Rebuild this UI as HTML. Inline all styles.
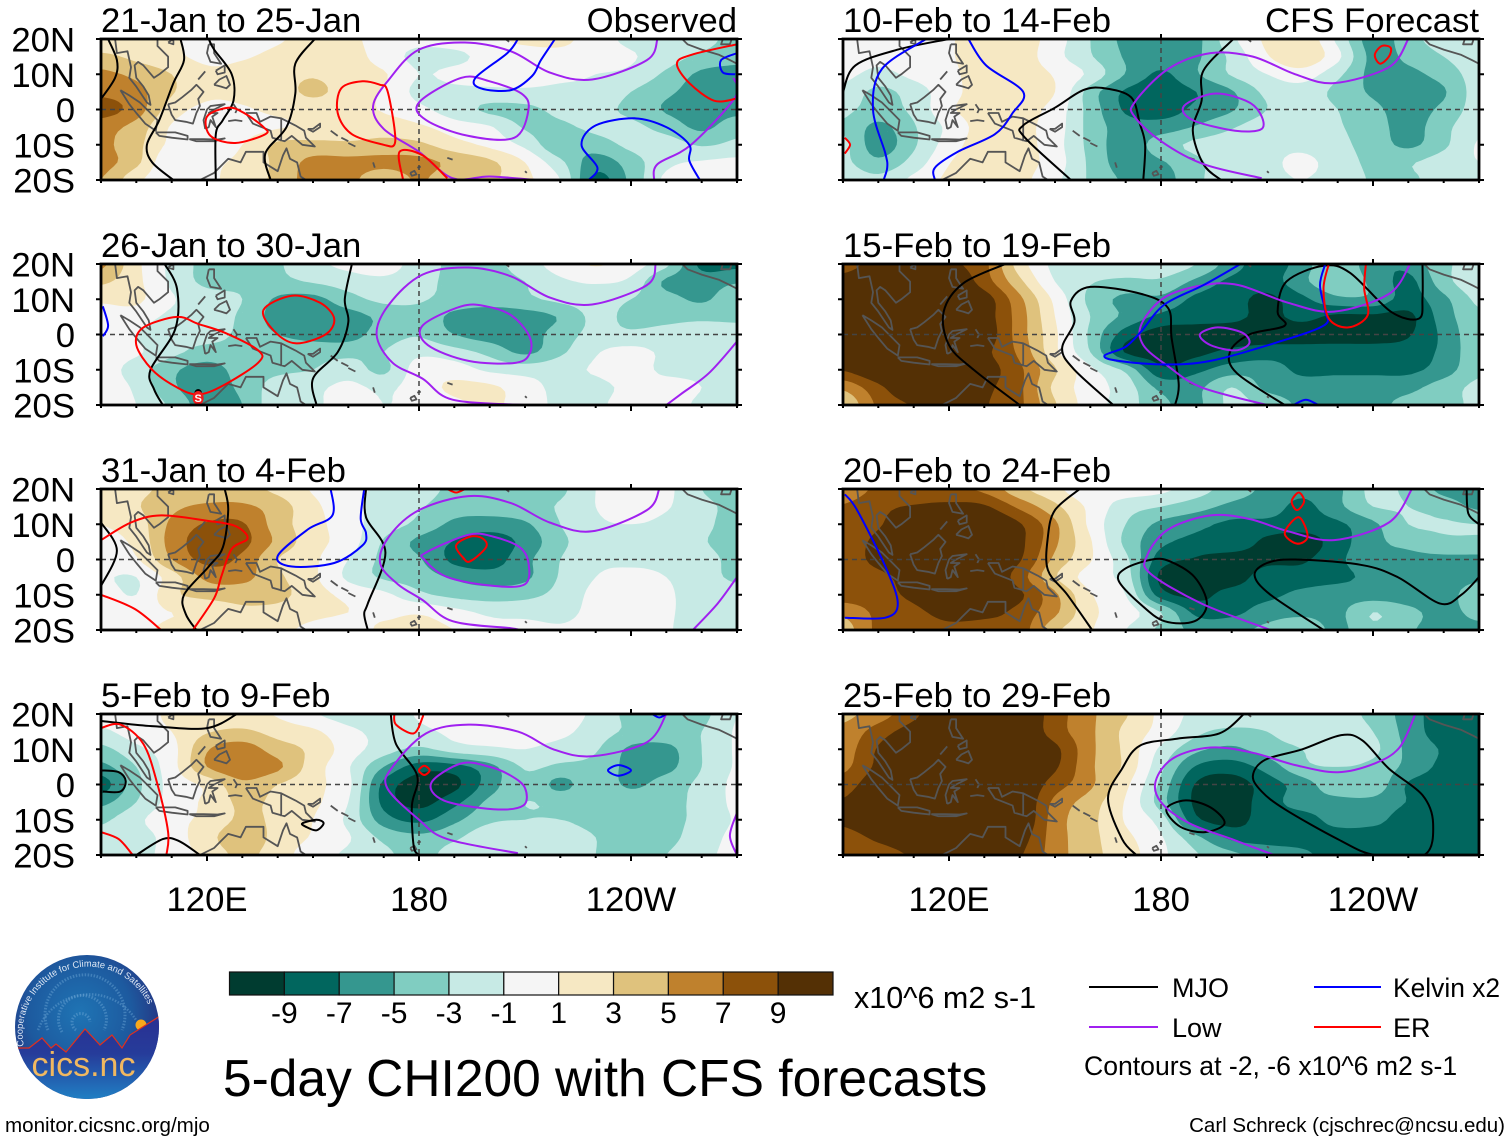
<!DOCTYPE html>
<html lang="en">
<head>
<meta charset="utf-8">
<title>5-day CHI200 with CFS forecasts</title>
<style>
html,body{margin:0;padding:0;background:#fff;}
svg{display:block;font-family:"Liberation Sans",Arial,sans-serif;}
text{fill:#000;}
</style>
</head>
<body>
<svg id="chart" xmlns="http://www.w3.org/2000/svg" width="1510" height="1142" viewBox="0 0 1510 1142">
  <rect x="0" y="0" width="1510" height="1142" fill="#fff"/>
  <defs>
    <radialGradient id="logo-sky" cx="45%" cy="40%" r="60%">
      <stop offset="0" stop-color="#1f74b4"/>
      <stop offset="0.6" stop-color="#1d5a9f"/>
      <stop offset="1" stop-color="#27307f"/>
    </radialGradient>
    <linearGradient id="logo-ground" x1="0" y1="0" x2="0" y2="1">
      <stop offset="0" stop-color="#2a2f92"/>
      <stop offset="0.45" stop-color="#263c9a"/>
      <stop offset="1" stop-color="#2080c4"/>
    </linearGradient>
    <clipPath id="logo-clip"><circle cx="87" cy="1027" r="72"/></clipPath>
    <path id="logo-arc" d="M 24 1046 A 65.5 65.5 0 1 1 153 1019"/>
  </defs>
  <g id="panels"></g>

  <g font-size="34.7">
    <text x="101" y="32">21-Jan to 25-Jan</text>
    <text x="737" y="32" text-anchor="end">Observed</text>
    <text x="101" y="257">26-Jan to 30-Jan</text>
    <text x="101" y="482">31-Jan to 4-Feb</text>
    <text x="101" y="707">5-Feb to 9-Feb</text>
    <text x="843" y="32">10-Feb to 14-Feb</text>
    <text x="1479" y="32" text-anchor="end">CFS Forecast</text>
    <text x="843" y="257">15-Feb to 19-Feb</text>
    <text x="843" y="482">20-Feb to 24-Feb</text>
    <text x="843" y="707">25-Feb to 29-Feb</text>
  </g>

  <g id="colorbar"></g>
  <text x="854" y="1008" font-size="30.5">x10^6 m2 s-1</text>
  <text x="223" y="1096" font-size="51.5">5-day CHI200 with CFS forecasts</text>

  <g font-size="27">
    <line x1="1089" y1="987" x2="1158" y2="987" stroke="#000" stroke-width="2"/>
    <text x="1172" y="997">MJO</text>
    <line x1="1089" y1="1027" x2="1158" y2="1027" stroke="#a020f0" stroke-width="2"/>
    <text x="1172" y="1037">Low</text>
    <line x1="1314" y1="987" x2="1381" y2="987" stroke="#0000ff" stroke-width="2"/>
    <text x="1393" y="997" font-size="26.4">Kelvin x2</text>
    <line x1="1314" y1="1027" x2="1381" y2="1027" stroke="#ff0000" stroke-width="2"/>
    <text x="1393" y="1037">ER</text>
    <text x="1084" y="1075" font-size="26.6">Contours at -2, -6 x10^6 m2 s-1</text>
  </g>

  <g>
    <circle cx="87" cy="1027" r="72" fill="url(#logo-sky)"/>
    <g clip-path="url(#logo-clip)" fill="none" stroke="#6fa8d8" stroke-opacity="0.45" stroke-dasharray="1.5 1.5">
      <path stroke-width="3" d="M 76 1030 A 9 9 0 1 1 90 1022"/>
      <path stroke-width="3" d="M 62 1032 A 24 24 0 1 1 104 1030"/>
      <path stroke-width="3" d="M 48 1030 A 40 40 0 1 1 122 1030"/>
      <path stroke-width="2.5" d="M 38 1030 A 55 55 0 0 1 136 1020"/>
    </g>
    <g clip-path="url(#logo-clip)">
      <circle cx="141" cy="1025" r="5.5" fill="#f8a81c"/>
      <path d="M 15 1048 L 29 1048 L 42 1038 L 51 1048 L 56 1044 L 66 1052 L 85 1029 L 100 1045 L 112 1035 L 122 1048 L 130 1035 L 160 1016 L 160 1100 L 15 1100 Z" fill="url(#logo-ground)" stroke="#e0301e" stroke-width="1.2"/>
    </g>
    <text font-size="9.3" style="fill:#dfe8f5"><textPath href="#logo-arc" startOffset="0">Cooperative Institute for Climate and Satellites</textPath></text>
    <text x="83.5" y="1076" font-size="34" text-anchor="middle" style="fill:#f0b860">cics.nc</text>
  </g>
  <text x="5" y="1132" font-size="20.6">monitor.cicsnc.org/mjo</text>
  <text x="1505" y="1132" font-size="20.5" text-anchor="end">Carl Schreck (cjschrec@ncsu.edu)</text>
</svg>

<script>
// ---- axes / grid coordinates of the data ----
const lons = [90,100,110,120,130,140,150,160,170,180,190,200,210,220,230,240,250,260,270];
const lats = [20,15,10,5,0,-5,-10,-15,-20];
const lonTicks = [120,180,240];
const lonTickLabels = ["120E","180","120W"];
const latTicks = [20,10,0,-10,-20];
const latTickLabels = ["20N","10N","0","10S","20S"];
const colorLevels = [-9,-7,-5,-3,-1,1,3,5,7,9];
const bandColors = ["#003c30","#01665e","#35978f","#80cdc1","#c7eae5","#f5f5f5","#f6e8c3","#dfc27d","#bf812d","#8c510a","#543005"];

// ---- CHI200 anomaly fields, x10^6 m2 s-1 (rows 20N..20S, columns 90E..270E) ----
const chi21Jan = [
[1.5,2,1.5,-0.5,0,0.8,1.5,1.5,0,-0.5,0,0.5,1.5,1.5,0,-1.5,-1.5,-2,-4],
[3.5,2.5,1.5,0.5,0.8,1.5,2,2,0,-1.5,-1.5,-0.3,0,0.3,0,-0.8,-2,-3.5,-4.5],
[5.5,4.5,3,1.4,1.6,2.2,2.8,2,1.2,-1,-0.5,0,0,-0.5,-1,-1.5,-3.4,-5.4,-5.6],
[6.5,5.6,3.2,1.5,1.5,2,3.4,2,0.8,-1.5,-1.5,-1.5,-1.4,-1.5,-1.5,-3,-4.6,-5.8,-6],
[8,6,2,0.5,0.8,1.4,1.8,1.8,0.8,-0.5,-2,-3.4,-3.5,-2.5,-2.5,-3.5,-5.2,-5.8,-5.6],
[5.8,4.2,0.8,0,0.2,0.8,1.5,1.8,2.2,1.4,0,-0.8,-3.2,-3.4,-2.5,-2.5,-3.8,-5.4,-3.8],
[5.5,3.6,0.5,0,1,3.4,3.6,3.4,3.6,3.4,1.8,0.5,-1.5,-4.6,-4,-2.5,-2,-3.2,-2.5],
[5.8,3.5,-0.8,0.5,1.5,3.5,5.6,5.6,5.6,5.6,4.5,3.4,1,-2.5,-6,-4,-1.5,-0.8,-0.5],
[5,1.5,-0.5,0.5,2,3.5,6,5.6,3.5,5.2,3.5,3.4,1.5,-1,-7.5,-4.5,-0.5,0,0]];
const chi26Jan = [
[5.5,1.5,-1.5,-3.6,-3.5,-3.2,-1.5,-0.5,0,-2,-3.4,-3.6,-2,0,1.2,0,-2.5,-7.5,-7.5],
[3.4,1.5,-1.4,-3.5,-3.5,-3.5,-2.8,-2,-1.5,-2.2,-3.6,-3.6,-3,-1.4,-0.8,-1.5,-5.4,-6,-5.2],
[1.4,1.4,-0.8,-2,-3,-5.3,-5.6,-3.8,-2.5,-2.8,-3.6,-3.8,-3.4,-2.5,-2,-3,-4.2,-5.3,-3.6],
[0,0,-1.5,-1.8,-3.4,-5.8,-6,-5.8,-4.5,-3.6,-5.6,-6.5,-6,-4.8,-2.5,-3.5,-3.6,-3.5,-3.6],
[-0.2,-1,-2.8,-2.5,-3.4,-5,-5.8,-5.8,-4,-3.2,-5,-6,-6,-4,-2.4,-2.6,-2.2,-1.6,-1.6],
[0,-0.7,-2.5,-3.6,-3.4,-3.4,-3.6,-3.6,-3,-1.5,-2.2,-3.6,-5.4,-3.4,-1.2,-0.3,-1.4,-1.5,-1.5],
[0,-2,-4.5,-6,-4,-3.4,-3,-2,-3.4,0,0,-1.4,-1.8,-1.5,-0.8,0,-1.5,-1.5,-1.5],
[0.2,-1.4,-4.6,-6,-4.5,-2,-1.5,-0.5,-1.4,0,1.4,1.4,-0.2,-1.5,-1.5,-0.5,0,-1,-1.5],
[0,-1,-3.4,-6,-5,-1.5,-1.4,0,-1,-0.5,0.5,1.4,0,-1.4,-1.4,0,0,-1.4,-1.5]];
const chi31Jan = [
[2,2.5,3.5,3.6,3.6,2.5,0.8,-0.3,-1.5,-2.2,-3.4,-3.6,-3.6,-3.4,-1,0,-0.5,-3,-3.6],
[1.5,2.8,4.5,5.4,5.4,4,1.5,-0.3,-1.8,-2.8,-4,-4,-3.6,-2.8,-1,0,-0.8,-2.5,-3.4],
[1,2,5.4,7.2,7.2,4,1.8,-0.2,-2,-3.5,-5.5,-6,-5.3,-3,-1.4,-1,-1.5,-2.5,-3.8],
[0.5,1.5,5.8,8,7.6,4.5,1.8,0,-3.2,-5.5,-7.1,-8,-6.4,-3.5,-2,-2.8,-1.5,-2.8,-3.8],
[0,0.8,5,7.6,6.5,3,1.4,-1,-3.5,-4.8,-7.5,-8,-5.6,-3,-1.5,-1.5,-1.5,-2.2,-3.6],
[-0.8,-1,2,5.5,5.6,3.4,1.4,-1.4,-3.3,-4,-5.3,-6,-5.4,-2.8,-1,-0.5,-1,-1.8,-3.6],
[0,-1,2.5,3.6,3.8,3.6,1.8,0.5,-0.5,-2.5,-3.6,-4,-3.6,-2.3,-0.5,0,-0.8,-1.5,-1.5],
[0,0.3,1,1.5,2.5,2.2,1.5,1,0.5,0.8,-0.3,-1.4,-1.5,-1.5,-0.5,0,-0.8,-1.5,-1.5],
[0,0.5,1.4,1.4,1.4,1.4,0.5,0,1.4,1.5,1,-0.3,-0.5,-0.8,-0.5,-0.5,-0.8,-2,-1.5]];
const chi5Feb = [
[-0.2,0,1.4,1.5,1.5,0.8,-0.8,-2,-2,-0.8,0,0,0,0,-1.5,-3.6,-4,-3.6,-1],
[-1.4,0,1,2.8,3.4,2.2,1.4,-0.5,-1.5,-1.5,-0.5,0,-0.3,-0.5,-2,-3.4,-3.6,-3,-0.8],
[-3.6,-1.5,0.3,4.8,6,4,2.5,0,-2,-3.4,-2,-1.4,-1,-1.8,-2.8,-5.4,-5.6,-3,-0.8],
[-5.6,-3,0.2,5,6.5,5.4,2,-0.8,-5,-8,-7.8,-5.7,-2.8,-3.4,-3.6,-5.6,-5.6,-3,-0.8],
[-8,-3.6,-0.3,1.5,4.5,3,1.5,-0.5,-7.5,-10,-9.5,-6,-3.4,-5.6,-3.6,-5.4,-4,-2.5,-0.5],
[-5.6,-3,-0.2,1.4,3.4,2.5,1.4,-1,-7.6,-9.6,-7.6,-4.5,-3,-3.4,-3,-3.5,-3.4,-2.5,-0.5],
[-3.4,-1.5,0.5,1.4,3.4,2.5,1,-1.5,-6,-7.5,-5.5,-3.4,-3,-3,-3.4,-3.4,-3.4,-2.5,-0.8],
[-2.5,-2,0,2.2,4.5,2.2,0.8,-0.8,-3.5,-4.5,-3.4,-1.5,-1.5,-2,-3,-3.5,-3.5,-2,-0.5],
[-3,-2,0,1.5,3.5,1.8,0,-1.4,-2.5,-3.8,-2,-1.5,-1.5,-1.5,-3,-3.4,-3,-1.5,-0.5]];
const chi10Feb = [
[-0.5,0,0,0.8,2,2,0,-3,-5.5,-6,-5.5,-1.5,1.4,2.5,-1.5,-6,-3.8,-2,-1.5],
[0,-0.5,0,0.8,2,2,-0.3,-2.8,-5.2,-6,-5.3,-2.5,0.8,2.6,-0.5,-5.6,-4.5,-3,-1.5],
[-0.5,-1.5,-0.5,0.5,2,2,0.8,-1.5,-5.1,-7.3,-5.2,-2.8,-1,0,-2.5,-5.6,-5.5,-4.2,-2],
[-1.5,-3.5,-2,0.2,2,2,1,-3.9,-7.3,-8,-7,-5.2,-2.5,-1.8,-3.6,-5.3,-6,-5.2,-2],
[-2.5,-3.8,-2.5,0.6,2,1.8,0.2,-3.8,-7.3,-8,-6.5,-5.2,-3,-1.8,-3,-4.5,-5.8,-4.5,-2],
[-3.2,-5.5,-3.2,-0.5,1.8,1.5,0,-3.7,-6,-6,-4.8,-3.2,-1.8,-1.8,-2.8,-4,-5.8,-3.6,-1.5],
[-2.5,-6,-3.3,0,2,1.8,-0.2,-3.6,-6,-4,-2.5,-1.8,-1.5,-1.5,-2.5,-3.8,-5.4,-3.4,-0.8],
[-2.5,-4.5,-2.2,0.9,2,1.8,0,-3.4,-6,-5.2,-3.5,-1.5,-1.5,-0.5,-2,-3.4,-3.2,-2,-1],
[-1.5,-2.4,-0.5,1.4,1.8,1.5,-0.5,-3.3,-5.3,-5.8,-3.5,-1.5,-1.5,-1,-1.8,-3.2,-3.4,-2,-1.5]];
const chi15Feb = [
[8,10,10.5,9.5,7.5,2,-1.5,-1.5,-1.4,-1.5,-3,-6,-8,-6,-3,-6.5,-6.5,-3.4,-2.5],
[10,11,11,11,8,3.5,-1,-2.8,-3.5,-3.4,-5.5,-7.5,-8,-5.5,-3.5,-5.5,-7.5,-3.8,-1.5],
[11,11,11,11,10,5.5,0.5,-3.5,-5.5,-5.5,-7.5,-8.2,-9.5,-7.5,-5.5,-5.5,-7.8,-5.5,-2.5],
[11,11,11,11,10,6,1,-3,-5.5,-7.5,-8.2,-8.5,-9.5,-8.5,-9.5,-9.5,-9.5,-6,-3.4],
[11,11,11,11,10.3,6,1.4,-3.4,-8,-10,-10,-10,-10,-10,-10,-10,-9.2,-6.5,-3.5],
[11,11,11,11,9.5,6.5,1.5,-3,-9.2,-10,-9.5,-8.5,-8,-8,-8,-8,-8,-6.5,-3.5],
[9.2,11,11,11,10,7.4,3.2,-0.5,-3.5,-8.5,-7.5,-6,-6,-7.5,-7.6,-7.6,-7.5,-6,-3.4],
[5.5,8.5,11,11,9.5,7.4,2.5,0,-2,-5.5,-5.5,-3,-5.5,-6,-5.5,-5.5,-5.5,-4,-2.5],
[3.2,7.4,9.2,11,9.2,7.4,3.2,0,-2,-4.5,-5.4,-2.5,-3.5,-5.4,-5.4,-5.4,-4.5,-3.8,-2.5]];
const chi20Feb = [
[5.5,7.4,7.3,7.2,6.5,3.5,1.5,-0.5,0,-0.5,-2,-4,-5.4,-6.5,-5.4,-2.5,-3.5,-5.5,-5.5],
[7.2,8.5,9.2,9.6,9.3,6.5,3.5,0.5,-2,-3,-4.2,-5.5,-6,-7.5,-5.5,-3,-3,-4,-5.4],
[7.6,8.8,10.5,11,11,9.2,5.4,0.5,-3,-5.5,-6.5,-7.4,-7.6,-8,-7.4,-5.4,-3,-2.8,-3],
[8,9.5,11,11,11,9.5,5.4,1.2,-3.5,-6.5,-7.5,-7.5,-9.5,-10,-8,-5.5,-4.5,-3.5,-3.4],
[8,9.6,11,11,11,9.2,4.5,1.2,-2.5,-8,-9.2,-10,-9.5,-9.3,-7.5,-5.4,-5.5,-5.5,-5.5],
[8,8.5,10,11,11,8,3.2,0,-2,-9.5,-9.5,-10,-8,-8,-7.5,-6.5,-6,-6,-5.5],
[8,8.3,9.5,11,11,9.4,5.4,1.2,-1,-8,-9.5,-8.2,-7.5,-6.5,-6,-6,-6,-6,-3.5],
[5.5,7.5,8.5,9.7,9.7,8.3,5.4,1.5,0,-3,-7.5,-7.5,-6,-5.5,-5.5,-3,-4.5,-5.5,-4.5],
[4,7.5,8,8.5,8,8,3.5,1.2,-1,-3.5,-5.5,-5.5,-4.5,-3.5,-5.5,-3.4,-4.8,-5.5,-5.4]];
const chi25Feb = [
[4.5,6,8.5,11,11,11,8,5.4,3.2,0.5,-1.5,-1.4,-2,-2.5,-2.5,-3.5,-6,-8,-8],
[5.5,8,10,11,11,11,8,5.4,2.5,0.2,-2.5,-3.5,-3,-2,-2.3,-3,-5.8,-8,-8],
[6,9.2,11,11,11,11,9.5,5.5,2.5,-1.4,-4.5,-5.4,-4,-3,-1.8,-2.5,-5.5,-7.2,-8],
[6.5,9.5,11,11,11,11,9.3,5.4,2.5,-2.5,-7.2,-8,-6.2,-3.5,-3,-3.5,-5.6,-7.5,-8],
[8,10.5,11,11,11,11,8,5.4,1.5,-3.5,-9.2,-10,-8,-6,-3.6,-3.6,-7.2,-8,-8],
[9.2,11,11,11,11,11,6.5,4,0.8,-4,-9.5,-10,-8,-6,-5.6,-5.6,-7.1,-8,-8],
[9.5,11,11,11,11,11,6,3.6,0.8,-2,-8.5,-9.8,-8,-8,-6.2,-6.4,-8,-8,-8],
[8,9.5,10.5,11,11,10,6,3.6,1.5,-0.8,-4.5,-7.5,-8,-8,-8,-8,-8,-8,-8],
[7.4,8,9.2,9.5,10,9.2,6,3.6,2,-0.5,-2.8,-4.5,-5.6,-6.5,-8,-8,-8,-8,-8]];

// ---- filtered anomaly contours as [lon, lat]; a repeated end point closes a loop ----
const mjo21Jan = [
[[92,20],[94.5,14],[94,9],[90,3]],
[[112.5,20],[113.5,14],[110.5,7.5],[106.5,-3],[103,-10],[104.5,-15],[110.5,-20]],
[[120.5,20],[122,17],[127,10],[127.5,2.5],[124.5,-3],[122.5,-7],[122.5,-20]],
[[150.5,20],[145,13],[145,4.5],[142.5,-5],[136.5,-12.5],[138,-20]]];
const low21Jan = [
[[247.5,20],[244.5,14],[229,8.5],[217,10.5],[206,16.5],[193,19],[180,17],[171.5,8.5],[167,1],[170,-5.5],[180,-12],[189.5,-19.5],[200,-19],[213,-20]],
[[192,9],[180,2],[182,-3],[194,-7.5],[207,-8],[211,0],[209,4.5],[200,8],[192,9]],
[[269,9],[269.5,3.5],[257,-10],[247.5,-15.5],[246.5,-20]]];
const kelvin21Jan = [
[[208,20],[205,16],[196,9],[197.5,6],[206,5.5],[212,9.5],[214.5,14],[218.5,20]],
[[228,-20],[230.5,-16.5],[226,-10],[230,-4.5],[241,-2.5],[250,-5],[256.5,-10],[256.5,-14.5],[259.5,-20]],
[[270,16],[265.5,14],[266,10.5],[269.5,10]]];
const er21Jan = [
[[164,8],[158,6],[157,-1],[161,-7],[170,-10],[173,-10],[173,-5],[171,5.5],[169,7],[164,8]],
[[126,0.5],[120,-2],[121,-7.5],[128,-9.5],[136.5,-7],[136,-5],[130.5,-1],[126,0.5]],
[[175.5,-20],[174.5,-12],[181,-13],[188,-19.5]],
[[270,18.5],[257,15.5],[253,13],[256.5,7.5],[263.5,2.5],[269.5,3]]];

const mjo26Jan = [
[[108,20],[111.5,13],[111,1.5],[104,-10],[105,-15.5],[107.5,-20]],
[[161,20],[159,10],[160,3.5],[157,-5],[150,-12.5],[151,-20]]];
const low26Jan = [
[[247,20],[244.5,14],[229,8.5],[217,10.5],[206,16.5],[194,19],[181,17],[171.5,8.5],[168,0],[172.5,-8],[181,-12.5],[189.5,-18.5],[210,-20]],
[[192,8],[181,2.5],[182.5,-3],[194,-7.5],[207.5,-8],[211.5,-5],[211,0],[206,5.5],[199,8],[192,8]],
[[270,-2],[262,-11],[254,-17],[250,-20]]];
const kelvin26Jan = [
[[90.5,8],[92,2.5],[90.5,-0.5]]];
const er26Jan = [
[[111.5,5],[102,2],[100,-3],[104.5,-10],[111.5,-15],[117.5,-17],[124.5,-14.5],[134.5,-8],[134.5,-4.5],[125,0.5],[117.5,3],[111.5,5]],
[[144,11],[136,7],[139,1],[145,-2.5],[153.5,0],[156,4.5],[152,9],[144,11]]];

const mjo31Jan = [
[[90,10.5],[94.5,2.5],[90,-7.5]],
[[125,20],[126,14],[124.5,3.5],[120.5,-2],[113.5,-10],[114,-15.5],[117,-20]],
[[165,20],[165,12],[170.5,2],[165.5,-12.5],[164.5,-15.5],[165.5,-20]]];
const low31Jan = [
[[248,20],[244.5,14],[229,8],[217,10.5],[206,16],[194,18],[180,14],[171.5,6.5],[169,-1],[174,-7],[181,-11.5],[189.5,-17.5],[206,-19.5],[208,-20]],
[[194,7],[182,2],[181.5,0],[188,-5],[201,-7.5],[210,-7],[211,-1],[208.5,3.5],[201,6.5],[194,7]],
[[270,-5],[264.5,-12.5],[257.5,-20]]];
const kelvin31Jan = [
[[155,20],[155.5,12.5],[148.5,8.5],[140,1],[144,-2],[156,-1],[164,4],[165,7.5],[163.5,11.5],[164.5,20]]];
const er31Jan = [
[[194.5,6.5],[190.5,4],[192.5,0.5],[194.5,-0.5],[199,3.5],[198,6],[194.5,6.5]],
[[188,20],[190.5,19],[193,20]],
[[90,5.5],[98.5,10.5],[107,12.5],[120,11],[128,9.5],[131.5,6],[127,3],[124,-5],[122,-11],[116,-20]],
[[90,-10],[99.5,-14],[107,-20]]];

const mjo5Feb = [
[[90,18],[105,16.5],[120,16],[128.5,20]],
[[90,4],[95,3.5],[97,1],[95.5,-2],[90.5,-2]],
[[100,-20],[107.5,-15.5],[112,-16],[118,-20]],
[[147,-11],[151,-10],[153,-11],[151,-13],[148,-12],[147,-11]],
[[172,20],[173.5,11.5],[179.5,2.5],[178,-6],[178.5,-17.5],[180,-20]]];
const low5Feb = [
[[250,20],[244.5,12],[229,8],[218,10],[208,15],[194,17],[182,14.5],[172.5,5],[171,-1],[180,-10],[188,-15.5],[208,-19.5]],
[[192,6],[183.5,0.5],[187,-4.5],[201,-7],[209.5,-6],[210,-1],[206,2.5],[200,5],[192,6]],
[[270,-8],[268,-14.5],[270,-20]]];
const kelvin5Feb = [
[[236.5,5.5],[233.5,4],[236.5,2.5],[240,4],[236.5,5.5]],
[[246,20],[248,19],[250,20]]];
const er5Feb = [
[[90,16],[95.5,17],[102,11.5],[106,0],[109,-13.5],[108.5,-20]],
[[90,-13.5],[95,-15.5],[99,-20]],
[[173,20],[173.5,17],[178.5,14.5],[181,19],[181,20]],
[[181.5,5.3],[183,4],[181.5,2.7],[180,4],[181.5,5.3]]];

const mjo10Feb = [
[[90,5],[93.5,12.5],[105.5,17],[120,20]],
[[154.5,-20],[141.5,-8],[141,-4.5],[150,0.5],[158,5.5],[164,6],[171.5,3.5],[174,-4],[175.5,-10],[175,-20]],
[[200.5,20],[192,11],[191.5,2.5],[189,-6],[192,-15.5],[197,-20]]];
const low10Feb = [
[[250,20],[244.5,12],[229,7.5],[218,10],[206,15],[194,16],[182,11.5],[172.5,2],[172.5,-2],[180,-9],[192,-15.5],[208.5,-19.5]],
[[195,4.5],[186.5,1],[189,-3],[201,-6],[208.5,-5.5],[208,-1],[204,2.5],[195,4.5]]];
const kelvin10Feb = [
[[113.5,20],[101,11.5],[98.5,0],[102,-12.5],[102.5,-16.5],[101.5,-20]],
[[125.5,20],[130.5,12.5],[141,5],[138,-1],[133,-7],[122.5,-12],[116,-16.5],[116,-20]]];
const er10Feb = [
[[242.5,18],[240.5,15.5],[242,13],[244.5,15],[245,17.5],[242.5,18]],
[[90.5,-8],[92,-10],[90.5,-12.5]]];

const mjo15Feb = [
[[136,20],[124,14.5],[118.5,6.5],[120,-3],[127,-10],[140,-20]],
[[166.5,-20],[155.5,-10],[152,-4],[155.5,3.5],[154.5,9.5],[160,13.5],[174.5,11.5],[182,7.5],[183,-1],[185,-14],[184,-20]],
[[215,-20],[201.5,-11],[199.5,-5],[205,0],[215,2.5],[213,6.5],[215.5,15],[226,19.5],[233.5,17.5],[245,6.5],[253,4.5],[254,10.5],[254,20]]];
const low15Feb = [
[[250.5,20],[244.5,11.5],[229,6.5],[216,9],[202,14],[192,14],[181,10.5],[174.5,3],[175,-3],[182,-9],[191.5,-15],[210,-20]],
[[196,2],[191,0],[194,-3],[201,-4.5],[205,-2.5],[203,0.5],[196,2]]];
const kelvin15Feb = [
[[202.5,20],[192,14],[181,8.5],[174.5,1],[170,-3.5],[164,-6],[168,-7.5],[181,-8.5],[194,-7.5],[212,-2.5],[226,2.5],[226.5,6.5],[225,14],[226.5,20]],
[[217.5,-20],[221,-18.5],[224.5,-20]]];
const er15Feb = [
[[227.5,20],[226,13],[227.5,4.5],[233,2],[238.5,5.5],[237.5,13],[238,20]]];

const mjo20Feb = [
[[157,20],[150,14],[148,6.5],[148,-3],[153.5,-10],[160.5,-20]],
[[177.5,0],[170,-2.5],[168,-6],[174,-12.5],[181,-17.5],[189.5,-17.5],[193,-12.5],[189.5,-5],[182.5,-0.5],[177.5,0]],
[[226,-20],[211,-10],[206.5,-4.5],[210,-1],[218,0],[236.5,-1.5],[247,-5],[259,-12.5],[265,-10],[270,-5]],
[[266.5,20],[267,13],[270,10]]];
const low20Feb = [
[[251,20],[244.5,10.5],[229,5.5],[216,8],[205,11.5],[194,12.5],[182,8.5],[176,1],[177,-4],[191.5,-12.5],[211,-20]]];
const kelvin20Feb = [
[[90.5,18.5],[94,14],[102,-2],[105.5,-12.5],[102,-16.5],[90.5,-16.5]]];
const er20Feb = [
[[219,19],[217,16.5],[218.5,14],[220.5,16.5],[219,19]],
[[219,12],[215,7.5],[218.5,4.5],[221.5,6.5],[219,12]]];

const mjo25Feb = [
[[203.5,20],[196.5,14.5],[184.5,13],[174,11],[169,4.5],[165,-4],[169,-15.5],[173,-20]],
[[206,2.5],[209.5,7],[220,10],[231,14],[237,12.5],[244.5,4.5],[254,-3],[257,-11],[254.5,-20],[240.5,-20],[230,-15.5],[215,-7],[208.5,-2],[206,2.5]],
[[187,-4.5],[181.5,-7],[185.5,-12],[192.5,-13.5],[198,-11],[194,-6.5],[187,-4.5]]];
const low25Feb = [
[[252,20],[247.5,10.5],[240.5,6],[230,3.5],[218,5.5],[206,9],[194,10.5],[183.5,7.5],[178.5,1],[180,-5],[188,-11],[200,-15.5],[212,-20]]];
const kelvin25Feb = [];
const er25Feb = [];

const stormMarkerLon = 117.5;
const stormMarkerLat = -18;

// ---- coastline outlines, [lon, lat] ----
const coastlines = [
[[94,20],[94.5,16],[97.5,16.5],[98.5,12],[98,9],[100,6.5],[103,2],[104,1.3],[103.5,4],[102,6.5],[100,9],[99.5,12.5],[100.5,13.5],[102,12.5],[105,9],[106.5,10],[109,12],[109,15],[106,18],[106,20]],
[[95.5,5.5],[98,4],[101,2],[104,-1],[106,-3],[105.5,-6],[102.5,-4],[100,-1],[98,1.5],[95.5,5.5]],
[[109,1.5],[111,2],[113,3.5],[115.5,5.5],[117,7],[119,5],[117.5,3],[118,1],[117,-1],[116,-4],[114,-3.5],[111,-3],[110,-1.5],[109,1.5]],
[[105.5,-6.5],[108,-6.5],[111,-6.5],[114.5,-7.5],[114.5,-8.5],[110,-8],[106.5,-7.5],[105.5,-6.5]],
[[115,-8.4],[119,-8.4],[123,-8.5],[125,-8.2],[122,-9],[117,-9],[115,-8.4]],
[[119.5,-5.5],[119,-3],[120,0],[121,1],[125,1.5],[122,0],[120.5,-1],[123,-1],[121.5,-2],[122.5,-5],[121,-3],[120.5,-5],[119.5,-5.5]],
[[120.5,18.5],[122,18.5],[122,16],[124,13],[121,13.5],[120,16],[120.5,18.5]],
[[122,7],[123.5,8.5],[125.5,9.5],[126.5,7],[125.5,6],[124,6.5],[122,7]],
[[117.5,8.5],[119.5,10.8]],
[[122.5,11],[125,12.5],[125,10.5],[123,10],[122.5,11]],
[[109,19],[110.5,20],[110.5,18.5],[109,19]],
[[127.5,1.5],[128.5,0],[128,-1]],
[[126,-3.3],[128,-3],[130,-3.3]],
[[131,-1],[134,-1],[135,-3.5],[138,-2],[141,-2.5],[145,-4.5],[147.5,-6],[148,-8],[150.5,-10.5],[147,-10],[144,-7.5],[142,-9],[138.5,-8],[138,-6],[133,-4],[131,-1]],
[[141,-2.5],[141,-9]],
[[118,-20],[122,-18],[124,-16],[126,-14],[129.5,-15],[131,-12],[136,-12],[136,-15],[140,-17.5],[141.5,-13],[142.5,-11],[143.5,-14],[145.5,-15],[146.5,-19],[148,-20]],
[[148.5,-5.5],[150,-5.5],[152,-4],[152,-5],[150,-6.3],[148.5,-5.5]],
[[155,-6],[157,-7.5]],[[158,-8],[160,-9]],[[160,-9.5],[162,-10.5]],
[[167,-15],[167.5,-16.5]],
[[177.5,-18],[178.7,-17.4],[179.3,-18.4],[178,-18.8],[177.5,-18]],
[[179.5,-16.5],[180.5,-16.2]],
[[188,-13.7],[189.5,-14.2]],
[[210,-17.5],[210.5,-18]],
[[204.5,20],[205.5,19.2]],
[[254.5,20],[256,18.5],[260,17],[265,15.5],[268,14],[270,13]],
[[266,20],[265.5,18.5],[268,18.5],[268.5,20]]];

// ---- panel contents in display order ----
const panelFields = [chi21Jan,chi26Jan,chi31Jan,chi5Feb,chi10Feb,chi15Feb,chi20Feb,chi25Feb];
const panelMjo = [mjo21Jan,mjo26Jan,mjo31Jan,mjo5Feb,mjo10Feb,mjo15Feb,mjo20Feb,mjo25Feb];
const panelLow = [low21Jan,low26Jan,low31Jan,low5Feb,low10Feb,low15Feb,low20Feb,low25Feb];
const panelKelvin = [kelvin21Jan,kelvin26Jan,kelvin31Jan,kelvin5Feb,kelvin10Feb,kelvin15Feb,kelvin20Feb,kelvin25Feb];
const panelEr = [er21Jan,er26Jan,er31Jan,er5Feb,er10Feb,er15Feb,er20Feb,er25Feb];
const panelKeys = ["21jan","26jan","31jan","5feb","10feb","15feb","20feb","25feb"];

// ---- drawing ----
const NS = "http://www.w3.org/2000/svg";
const PANEL_W = 636, PANEL_H = 141;
const colLeft = [101,843];
const rowTop = [39,264,489,714];
function mk(tag, attrs, parent){
  const e = document.createElementNS(NS, tag);
  for (const k in attrs) e.setAttribute(k, attrs[k]);
  parent.appendChild(e);
  return e;
}
function xScale(lon, left){ return left + (lon - lons[0]) / (lons[lons.length-1] - lons[0]) * PANEL_W; }
function yScale(lat, top){ return top + (lats[0] - lat) / (lats[0] - lats[lats.length-1]) * PANEL_H; }
function cr(a,b,c,d,t){ return 0.5*((2*b)+(-a+c)*t+(2*a-5*b+4*c-d)*t*t+(-a+3*b-3*c+d)*t*t*t); }
const UX = 8, UY = 4;
function upsample(field){
  const ny = field.length, nx = field[0].length;
  const W = (nx-1)*UX+1, H = (ny-1)*UY+1;
  const out = [];
  function g(j,i){ return field[Math.max(0,Math.min(ny-1,j))][Math.max(0,Math.min(nx-1,i))]; }
  for (let y=0;y<H;y++){
    const row = new Array(W);
    const fy = y/UY, j = Math.min(ny-2,Math.floor(fy)), ty = fy-j;
    for (let x=0;x<W;x++){
      const fx = x/UX, i = Math.min(nx-2,Math.floor(fx)), tx = fx-i;
      const r = [];
      for (let m=-1;m<=2;m++) r.push(cr(g(j+m,i-1),g(j+m,i),g(j+m,i+1),g(j+m,i+2),tx));
      row[x] = cr(r[0],r[1],r[2],r[3],ty);
    }
    out.push(row);
  }
  return out;
}
function bandPath(S, level, sign, left, top){
  const H = S.length, W = S[0].length;
  const dx = PANEL_W/(W-1), dy = PANEL_H/(H-1);
  const f = v => sign*(v-level);
  let d = "";
  for (let y=0;y<H-1;y++){
    let run = -1;
    const y0 = top+y*dy, y1 = y0+dy;
    for (let x=0;x<W-1;x++){
      const c = [f(S[y][x]),f(S[y][x+1]),f(S[y+1][x+1]),f(S[y+1][x])];
      const full = c[0]>=0&&c[1]>=0&&c[2]>=0&&c[3]>=0;
      if (full){ if (run<0) run = x; continue; }
      if (run>=0){
        d += "M"+(left+run*dx).toFixed(1)+" "+y0.toFixed(1)+"H"+(left+x*dx).toFixed(1)+"V"+y1.toFixed(1)+"H"+(left+run*dx).toFixed(1)+"Z";
        run = -1;
      }
      if (c[0]<0&&c[1]<0&&c[2]<0&&c[3]<0) continue;
      const x0 = left+x*dx, x1 = x0+dx;
      const px = [x0,x1,x1,x0], py = [y0,y0,y1,y1];
      const poly = [];
      for (let k=0;k<4;k++){
        const n = (k+1)%4;
        if (c[k]>=0) poly.push([px[k],py[k]]);
        if ((c[k]>=0)!==(c[n]>=0)){
          const t = c[k]/(c[k]-c[n]);
          poly.push([px[k]+t*(px[n]-px[k]),py[k]+t*(py[n]-py[k])]);
        }
      }
      if (poly.length>2){
        d += "M"+poly.map(p=>p[0].toFixed(1)+" "+p[1].toFixed(1)).join("L")+"Z";
      }
    }
    if (run>=0){
      d += "M"+(left+run*dx).toFixed(1)+" "+y0.toFixed(1)+"H"+(left+(W-1)*dx).toFixed(1)+"V"+y1.toFixed(1)+"H"+(left+run*dx).toFixed(1)+"Z";
    }
  }
  return d;
}
function smoothPath(pts, left, top){
  const p = pts.map(q=>[xScale(q[0],left),yScale(q[1],top)]);
  const closed = pts.length>2 && pts[0][0]===pts[pts.length-1][0] && pts[0][1]===pts[pts.length-1][1];
  const n = p.length;
  const at = i => closed ? p[((i%(n-1))+(n-1))%(n-1)] : p[Math.max(0,Math.min(n-1,i))];
  let d = "M"+p[0][0].toFixed(1)+" "+p[0][1].toFixed(1);
  for (let i=0;i<n-1;i++){
    const a=at(i-1),b=at(i),c=at(i+1),e=at(i+2);
    d += "C"+(b[0]+(c[0]-a[0])/6).toFixed(1)+" "+(b[1]+(c[1]-a[1])/6).toFixed(1)+" "+(c[0]-(e[0]-b[0])/6).toFixed(1)+" "+(c[1]-(e[1]-b[1])/6).toFixed(1)+" "+c[0].toFixed(1)+" "+c[1].toFixed(1);
  }
  return d;
}
function linearPath(pts, left, top){
  return "M"+pts.map(q=>xScale(q[0],left).toFixed(1)+" "+yScale(q[1],top).toFixed(1)).join("L");
}

const root = document.getElementById("panels");
const svgRoot = document.getElementById("chart");
const defs = svgRoot.querySelector("defs");

panelFields.forEach(function(field, idx){
  const left = colLeft[idx<4?0:1];
  const top = rowTop[idx%4];
  const key = panelKeys[idx];
  const g = mk("g",{},root);
  
  

  const cp = mk("clipPath",{id:"clip-"+key},defs);
  mk("rect",{x:left,y:top,width:PANEL_W,height:PANEL_H},cp);
  const inner = mk("g",{"clip-path":"url(#clip-"+key+")"},g);

  const bg = mk("rect",{x:left,y:top,width:PANEL_W,height:PANEL_H,fill:bandColors[5]},inner);
  
  

  const S = upsample(field);
  // warm bands paint upward from +1, cool bands paint downward from -1
  for (let c=5;c<colorLevels.length;c++){
    const d = bandPath(S,colorLevels[c],1,left,top);
    if (!d) continue;
    const b = mk("path",{d:d,fill:bandColors[c+1]},inner);
    
    
  }
  for (let c=4;c>=0;c--){
    const d = bandPath(S,colorLevels[c],-1,left,top);
    if (!d) continue;
    const b = mk("path",{d:d,fill:bandColors[c]},inner);
    
    
  }

  const coast = mk("path",{d:coastlines.map(l=>linearPath(l,left,top)).join(""),fill:"none",stroke:"#555","stroke-width":1.8,"stroke-linejoin":"round"},inner);
  
  

  const eq = mk("line",{x1:left,x2:left+PANEL_W,y1:yScale(0,top),y2:yScale(0,top),stroke:"#444","stroke-width":1.5,"stroke-dasharray":"5 4"},inner);
  
  
  const dl = mk("line",{x1:xScale(180,left),x2:xScale(180,left),y1:top,y2:top+PANEL_H,stroke:"#444","stroke-width":1.5,"stroke-dasharray":"5 4"},inner);
  
  

  const seriesSets = [[panelMjo[idx],"#000000","mjo"],[panelLow[idx],"#a020f0","low"],[panelKelvin[idx],"#0000ff","kelvin"],[panelEr[idx],"#ff0000","er"]];
  seriesSets.forEach(function(s){
    s[0].forEach(function(pts){
      const l = mk("path",{d:smoothPath(pts,left,top),fill:"none",stroke:s[1],"stroke-width":2,"stroke-linejoin":"round"},inner);
      
      
    });
  });

  if (key==="26jan"){
    const mx = xScale(stormMarkerLon,left), my = yScale(stormMarkerLat,top);
    const m = mk("g",{},inner);
    
    
    mk("ellipse",{cx:mx,cy:my-4,rx:4,ry:5,fill:"#000"},m);
    mk("ellipse",{cx:mx,cy:my,rx:5.5,ry:7,fill:"#ee1c1c"},m);
    const st = mk("text",{x:mx,y:my+4,"font-size":11,"font-weight":"bold","text-anchor":"middle",style:"fill:#fff"},m);
    st.textContent = "S";
  }

  // frame and ticks
  const fr = mk("rect",{x:left,y:top,width:PANEL_W,height:PANEL_H,fill:"none",stroke:"#000","stroke-width":2.8},g);
  
  
  let t = "";
  lons.forEach(function(lon){
    const x = xScale(lon,left).toFixed(1);
    const major = lonTicks.indexOf(lon)>=0;
    t += "M"+x+" "+(top+PANEL_H)+"V"+(top+PANEL_H+(major?6:3));
    if (major) t += "M"+x+" "+top+"V"+(top-5);
  });
  latTicks.forEach(function(lat){
    const y = yScale(lat,top).toFixed(1);
    t += "M"+left+" "+y+"H"+(left-5)+"M"+(left+PANEL_W)+" "+y+"H"+(left+PANEL_W+5);
  });
  const ticks = mk("path",{d:t,fill:"none",stroke:"#000","stroke-width":2},g);
  
  

  if (idx<4){
    latTicks.forEach(function(lat,i){
      const tx = mk("text",{x:left-26,y:yScale(lat,top)+12.5,"font-size":34.7,"text-anchor":"end"},g);
      tx.textContent = latTickLabels[i];
      
      
    });
  }
  if (idx%4===3){
    lonTicks.forEach(function(lon,i){
      const tx = mk("text",{x:xScale(lon,left),y:911,"font-size":34.7,"text-anchor":"middle"},g);
      tx.textContent = lonTickLabels[i];
      
      
    });
  }
});

// colour bar
(function(){
  const cb = document.getElementById("colorbar");
  const x0 = 229.5, w = 603.5/bandColors.length, y0 = 972, h = 23;
  bandColors.forEach(function(col,i){
    const r = mk("rect",{x:x0+i*w,y:y0,width:w,height:h,fill:col,stroke:"#111","stroke-width":1.2},cb);
    
    
  });
  colorLevels.forEach(function(v,i){
    const tx = mk("text",{x:x0+(i+1)*w,y:1023,"font-size":30,"text-anchor":"middle"},cb);
    tx.textContent = String(v);
    
    
  });
})();
</script>
</body>
</html>
